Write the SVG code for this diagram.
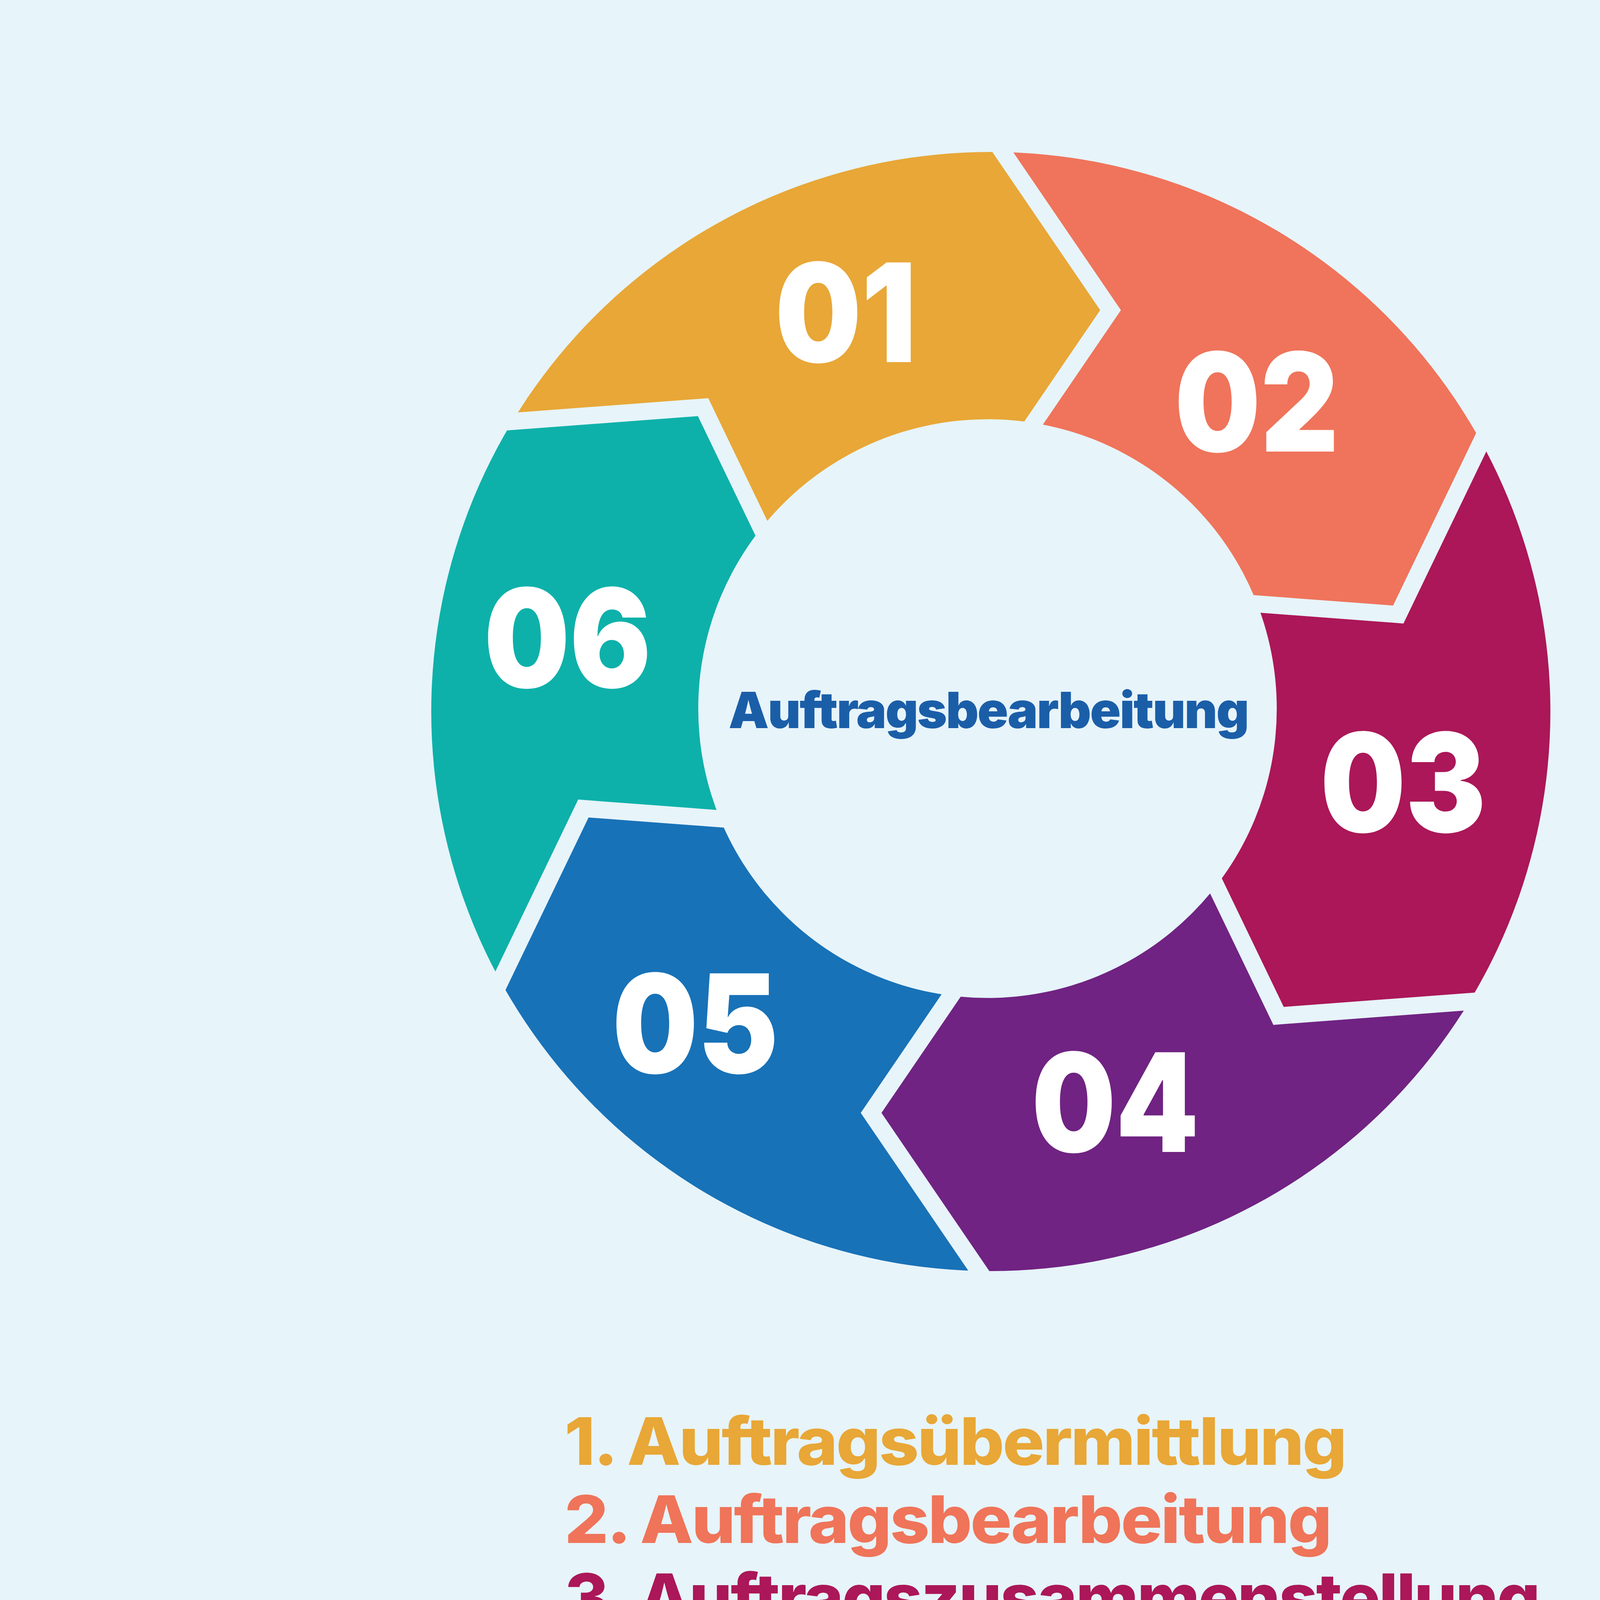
<svg xmlns="http://www.w3.org/2000/svg" width="5001" height="5293" viewBox="0 0 5001 5293">
<style>
.num{font-family:Inter,Roboto,"Liberation Sans",sans-serif;font-weight:900;font-size:351px;fill:#FFFFFF;text-anchor:middle}
.leg{font-family:Inter,"Liberation Sans",sans-serif;font-weight:800;font-size:168px;letter-spacing:-4px}
.ctr{font-family:Inter,"Liberation Sans",sans-serif;font-weight:900;font-size:128px;letter-spacing:-3px;fill:#1B5EA8;text-anchor:middle}
</style>
<defs>
<clipPath id="ring" clipPathUnits="userSpaceOnUse">
<path clip-rule="evenodd" d="M1104 1821.5a1432.5 1432.5 0 1 0 2865 0a1432.5 1432.5 0 1 0 -2865 0ZM1787.5 1814a740.5 740.5 0 1 0 1481 0a740.5 740.5 0 1 0 -1481 0Z"/>
</clipPath>
<path id="seg" d="M2242.5 -2399.5L2418.9 133L2869.5 794L2587.9 1207L2536.5 1821.5L3067.9 1512.9L3566.3 1550.2L3913.4 829.5L5978.5 -658.5Z"/>
</defs>
<rect x="0" y="0" width="5001" height="5293" fill="#E7F4FA"/>
<g id="segment-01" clip-path="url(#ring)"><use href="#seg" fill="#E8A737" transform="rotate(300 2536.5 1821.5)"/></g>
<g id="segment-02" clip-path="url(#ring)"><use href="#seg" fill="#EF745B"/></g>
<g id="segment-03" clip-path="url(#ring)"><use href="#seg" fill="#AB1758" transform="rotate(60 2536.5 1821.5)"/></g>
<g id="segment-04" clip-path="url(#ring)"><use href="#seg" fill="#702382" transform="rotate(120 2536.5 1821.5)"/></g>
<g id="segment-05" clip-path="url(#ring)"><use href="#seg" fill="#1872B7" transform="rotate(180 2536.5 1821.5)"/></g>
<g id="segment-06" clip-path="url(#ring)"><use href="#seg" fill="#0DB1AA" transform="rotate(240 2536.5 1821.5)"/></g>
<g id="labels">
<text class="num" x="2165" y="927" textLength="362" lengthAdjust="spacingAndGlyphs">01</text>
<text class="num" x="3217" y="1156" textLength="420" lengthAdjust="spacingAndGlyphs">02</text>
<text class="num" x="3592" y="2130" textLength="424" lengthAdjust="spacingAndGlyphs">03</text>
<text class="num" x="2855" y="2949" textLength="428" lengthAdjust="spacingAndGlyphs">04</text>
<text class="num" x="1780" y="2747" textLength="425" lengthAdjust="spacingAndGlyphs">05</text>
<text class="num" x="1453" y="1760" textLength="428" lengthAdjust="spacingAndGlyphs">06</text>
</g>
<g id="center">
<text class="ctr" x="2530" y="1864" textLength="1330" lengthAdjust="spacingAndGlyphs">Auftragsbearbeitung</text>
</g>
<g id="legend">
<text class="leg" x="1445" y="3750" fill="#E8A736" textLength="1999" lengthAdjust="spacingAndGlyphs">1. Auftragsübermittlung</text>
<text class="leg" x="1445" y="3950" fill="#EF7459" textLength="1961" lengthAdjust="spacingAndGlyphs">2. Auftragsbearbeitung</text>
<text class="leg" x="1445" y="4150" fill="#AB1758" textLength="2494" lengthAdjust="spacingAndGlyphs">3. Auftragszusammenstellung</text>
<text class="leg" x="1445" y="4350" fill="#702482" textLength="2332" lengthAdjust="spacingAndGlyphs">4. Verpackung und Versand</text>
<text class="leg" x="1445" y="4550" fill="#1A71B7" textLength="1262" lengthAdjust="spacingAndGlyphs">5. Fakturierung</text>
<text class="leg" x="1445" y="4750" fill="#0DB0A9" textLength="1919" lengthAdjust="spacingAndGlyphs">6. Zahlungstransaktion</text>
</g>
</svg>
